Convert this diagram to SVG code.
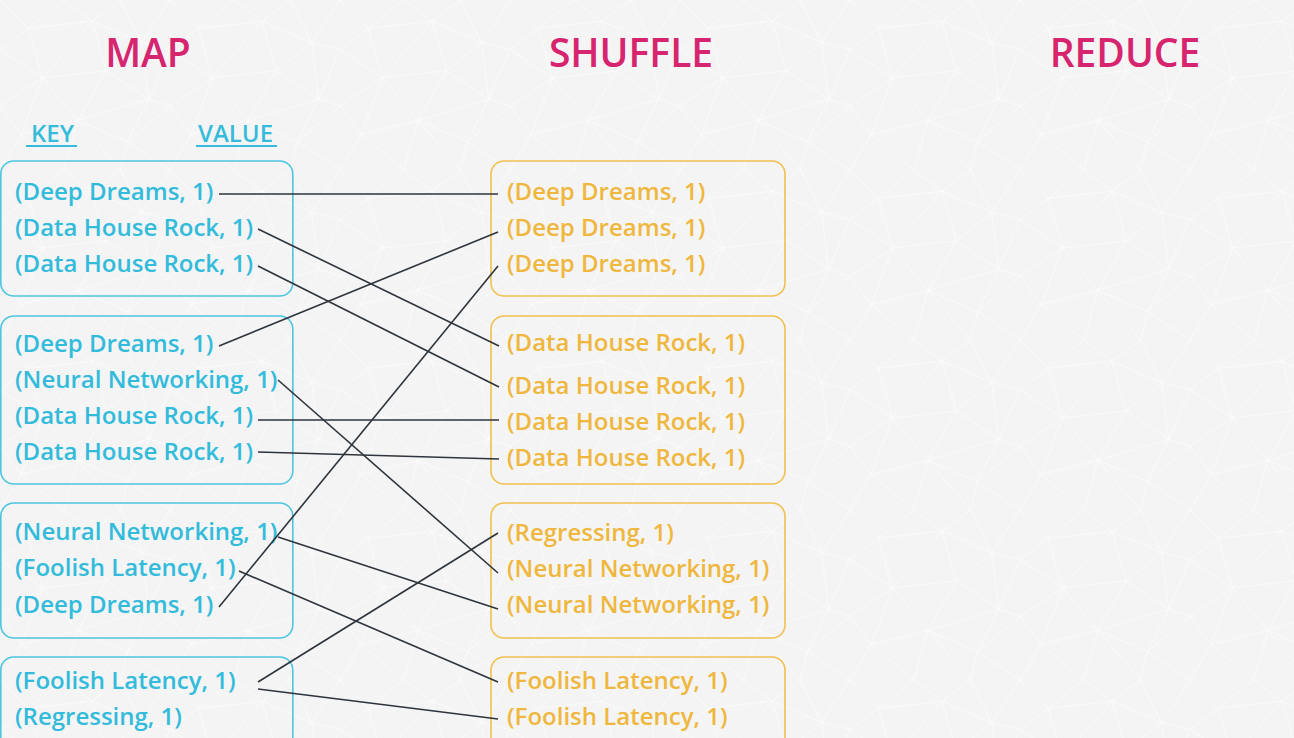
<svg xmlns="http://www.w3.org/2000/svg" width="1294" height="738" viewBox="0 0 1294 738">
<defs>
<style>
.title{font-family:"Open Sans","Liberation Sans",sans-serif;font-size:39px;font-weight:600;fill:#d6246e;text-anchor:middle}
.hdr{font-family:"Open Sans","Liberation Sans",sans-serif;font-size:24px;font-weight:600;fill:#35bcdb}
.ul{stroke:#35bcdb;stroke-width:2}
.mbox{fill:none;stroke:#4cc5e0;stroke-width:1.6}
.sbox{fill:none;stroke:#f1c04f;stroke-width:1.6}
.mt{font-family:"Open Sans","Liberation Sans",sans-serif;font-size:24px;font-weight:600;fill:#33bbdb}
.st{font-family:"Open Sans","Liberation Sans",sans-serif;font-size:24px;font-weight:600;fill:#efb73e}
.conn line{stroke:#2e343c;stroke-width:1.6;fill:none}
.mesh path{stroke:#ffffff;stroke-width:1.1;fill:none;opacity:0.7}
</style>
<pattern id="meshpat" x="0" y="0" width="170" height="170" patternUnits="userSpaceOnUse">
<g class="mesh" transform="scale(0.7083)"><path d="M0 0L40 40M90 0L40 40M90 0L130 30M170 0L130 30M170 0L200 60M240 0L200 60M0 70L40 40M40 40L130 30M130 30L200 60M200 60L240 70M0 70L60 110M40 40L60 110M60 110L130 30M130 30L150 100M60 110L150 100M150 100L200 60M200 60L210 140M150 100L210 140M210 140L240 70M210 140L240 150M0 150L60 110M0 150L30 190M30 190L60 110M60 110L110 170M110 170L150 100M110 170L210 140M110 170L180 200M180 200L210 140M180 200L240 150M180 200L240 240M180 200L170 240M110 170L170 240M110 170L90 240M30 190L90 240M30 190L110 170M30 190L0 240"/></g>
</pattern>
</defs>
<rect width="1294" height="738" fill="#f4f4f4"/>
<rect width="1294" height="738" fill="url(#meshpat)"/>

<g id="titles">
<text class="title" x="148" y="67">MAP</text>
<text class="title" x="631" y="67">SHUFFLE</text>
<text class="title" x="1125" y="67">REDUCE</text>
</g>

<g id="header">
<text class="hdr" x="31" y="142">KEY</text>
<line class="ul" x1="26" y1="146" x2="77" y2="146"/>
<text class="hdr" x="198" y="142">VALUE</text>
<line class="ul" x1="196" y1="146" x2="277" y2="146"/>
</g>

<g id="map1">
<rect class="mbox" x="0.8" y="161" width="292" height="135" rx="13"/>
<text class="mt" x="15" y="200">(Deep Dreams, 1)</text>
<text class="mt" x="15" y="236">(Data House Rock, 1)</text>
<text class="mt" x="15" y="272">(Data House Rock, 1)</text>
</g>
<g id="map2">
<rect class="mbox" x="0.8" y="316" width="292" height="168" rx="13"/>
<text class="mt" x="15" y="352">(Deep Dreams, 1)</text>
<text class="mt" x="15" y="388">(Neural Networking, 1)</text>
<text class="mt" x="15" y="424">(Data House Rock, 1)</text>
<text class="mt" x="15" y="460">(Data House Rock, 1)</text>
</g>
<g id="map3">
<rect class="mbox" x="0.8" y="503" width="292" height="135" rx="13"/>
<text class="mt" x="15" y="540">(Neural Networking, 1)</text>
<text class="mt" x="15" y="576">(Foolish Latency, 1)</text>
<text class="mt" x="15" y="613">(Deep Dreams, 1)</text>
</g>
<g id="map4">
<rect class="mbox" x="0.8" y="657" width="292" height="110" rx="13"/>
<text class="mt" x="15" y="689">(Foolish Latency, 1)</text>
<text class="mt" x="15" y="725">(Regressing, 1)</text>
</g>

<g id="shuffle1">
<rect class="sbox" x="491" y="161" width="294" height="135" rx="13"/>
<text class="st" x="507" y="200">(Deep Dreams, 1)</text>
<text class="st" x="507" y="236">(Deep Dreams, 1)</text>
<text class="st" x="507" y="272">(Deep Dreams, 1)</text>
</g>
<g id="shuffle2">
<rect class="sbox" x="491" y="316" width="294" height="168" rx="13"/>
<text class="st" x="507" y="351">(Data House Rock, 1)</text>
<text class="st" x="507" y="394">(Data House Rock, 1)</text>
<text class="st" x="507" y="430">(Data House Rock, 1)</text>
<text class="st" x="507" y="466">(Data House Rock, 1)</text>
</g>
<g id="shuffle3">
<rect class="sbox" x="491" y="503" width="294" height="135" rx="13"/>
<text class="st" x="507" y="541">(Regressing, 1)</text>
<text class="st" x="507" y="577">(Neural Networking, 1)</text>
<text class="st" x="507" y="613">(Neural Networking, 1)</text>
</g>
<g id="shuffle4">
<rect class="sbox" x="491" y="657" width="294" height="110" rx="13"/>
<text class="st" x="507" y="689">(Foolish Latency, 1)</text>
<text class="st" x="507" y="725">(Foolish Latency, 1)</text>
</g>

<g id="connectors" class="conn">
<line x1="219" y1="194" x2="498" y2="194"/>
<line x1="258" y1="229" x2="499" y2="346"/>
<line x1="258" y1="266" x2="499" y2="387"/>
<line x1="219" y1="346" x2="498" y2="232"/>
<line x1="278" y1="380" x2="498" y2="573"/>
<line x1="258" y1="420" x2="499" y2="420"/>
<line x1="258" y1="452" x2="499" y2="459"/>
<line x1="278" y1="537" x2="498" y2="609"/>
<line x1="239" y1="571" x2="498" y2="682"/>
<line x1="219" y1="607" x2="498" y2="266"/>
<line x1="258" y1="682" x2="498" y2="533"/>
<line x1="258" y1="689" x2="498" y2="719"/>
</g>
</svg>
